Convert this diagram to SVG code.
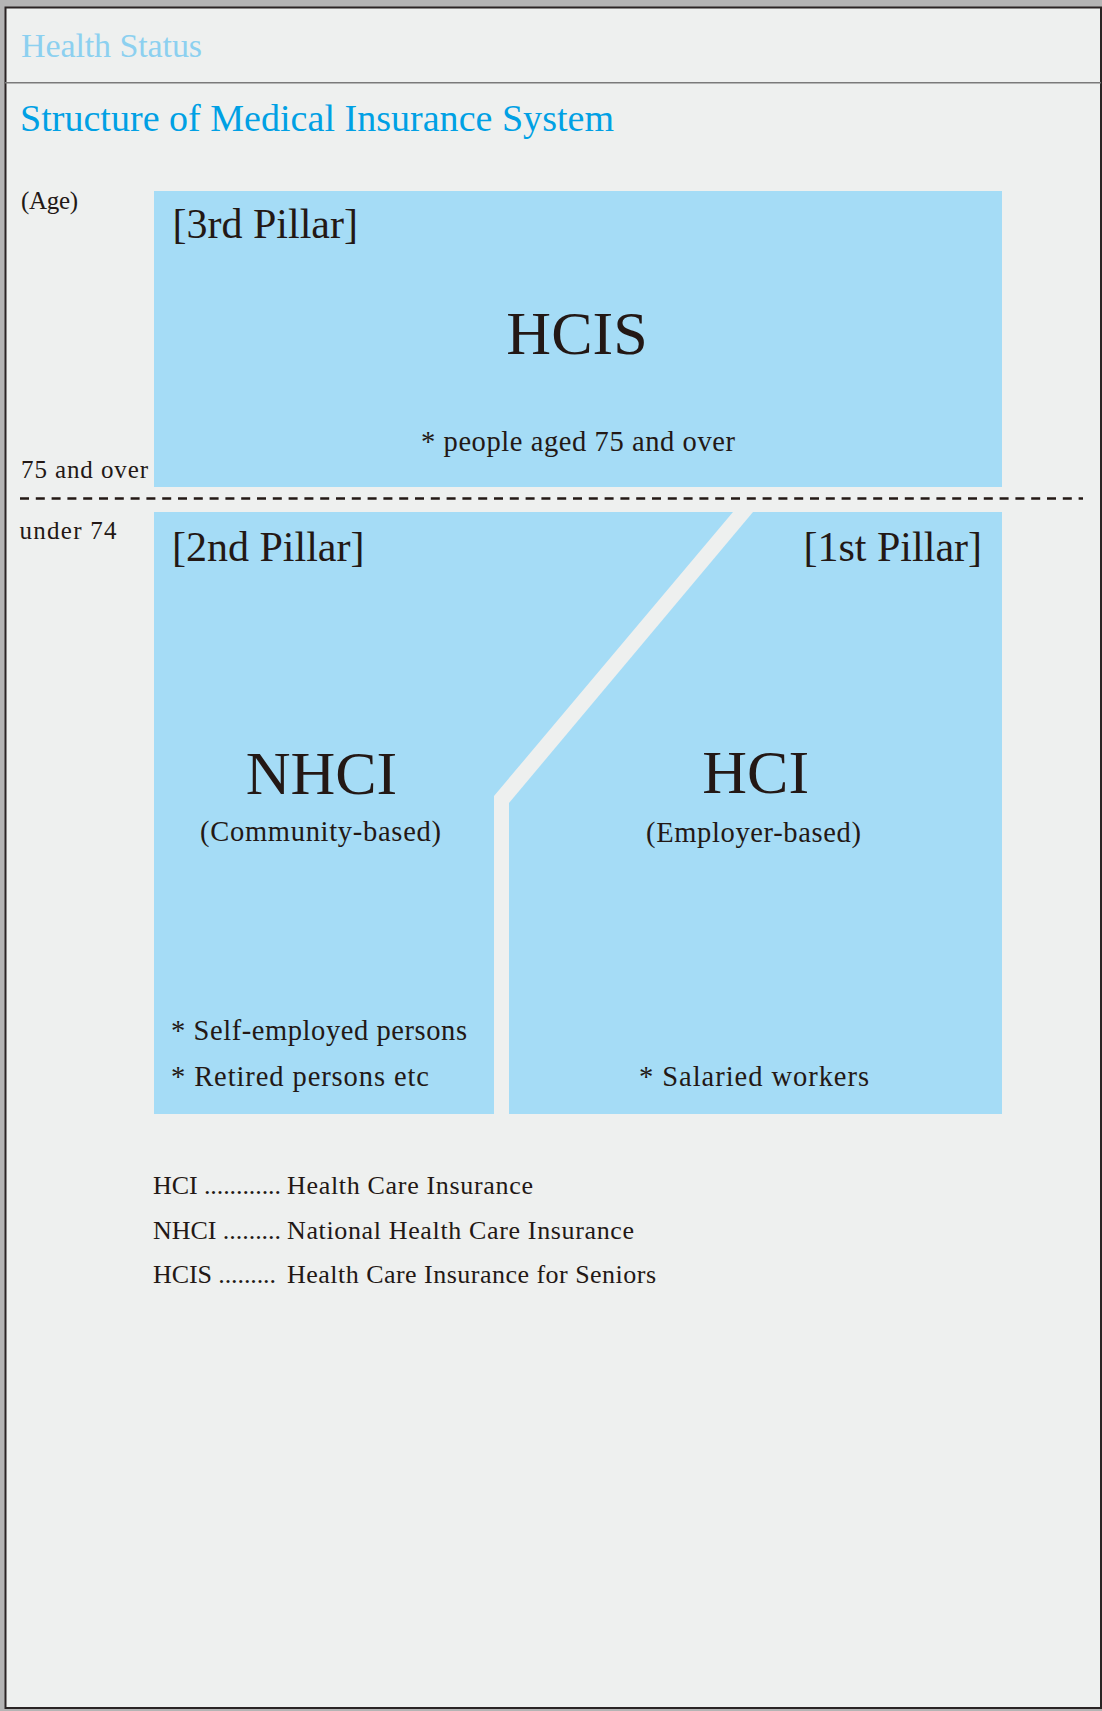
<svg xmlns="http://www.w3.org/2000/svg" width="1102" height="1711" viewBox="0 0 1102 1711">
  <style>
    .serif { font-family: "Liberation Serif", "Times New Roman", serif; }
    .ink { fill: #231815; }
    .box { fill: #a5dcf6; }
    .pillar { font-size: 42px; }
    .big { font-size: 62px; text-anchor: middle; }
    .sub { font-size: 28.5px; }
    .age { font-size: 25px; }
    .legend { font-size: 26px; }
  </style>
  <rect x="0" y="0" width="1102" height="1711" fill="#b4b4b4"/>
  <rect id="frame" x="5.5" y="7.5" width="1095.5" height="1700.5" fill="#eef0ef" stroke="#2a2424" stroke-width="2"/>
  <line x1="5" y1="82.7" x2="1101" y2="82.7" stroke="#7a7a7a" stroke-width="1.6"/>

  <g id="titles" class="serif">
    <text x="21" y="57" font-size="34" fill="#8cd0f0" textLength="181">Health Status</text>
    <text x="20" y="131" font-size="38" fill="#00a0e4" textLength="594">Structure of Medical Insurance System</text>
  </g>

  <g id="age-axis" class="serif ink">
    <text class="age" x="21" y="209" font-size="23" textLength="57">(Age)</text>
    <text class="age" x="21" y="478" textLength="127">75 and over</text>
    <text class="age" x="19.5" y="539" textLength="97">under 74</text>
  </g>

  <g id="node-hcis" class="serif">
    <rect class="box" x="154" y="191" width="848" height="296"/>
    <text class="pillar ink" x="172.5" y="238">[3rd Pillar]</text>
    <text class="big ink" x="577" y="354">HCIS</text>
    <text class="sub ink" x="421" y="451" textLength="314">* people aged 75 and over</text>
  </g>

  <g id="node-nhci" class="serif">
    <polygon class="box" points="154,512 733,512 494,796 494,1114 154,1114"/>
    <text class="pillar ink" x="172" y="561">[2nd Pillar]</text>
    <text class="big ink" x="321.5" y="794">NHCI</text>
    <text class="sub ink" x="200" y="841" textLength="241">(Community-based)</text>
    <text class="sub ink" x="171" y="1040" textLength="296">* Self-employed persons</text>
    <text class="sub ink" x="171" y="1086" textLength="258">* Retired persons etc</text>
  </g>

  <g id="node-hci" class="serif">
    <polygon class="box" points="753,512 1002,512 1002,1114 509,1114 509,803"/>
    <text class="pillar ink" x="982" y="561" text-anchor="end">[1st Pillar]</text>
    <text class="big ink" x="755.7" y="793">HCI</text>
    <text class="sub ink" x="646" y="842" textLength="215">(Employer-based)</text>
    <text class="sub ink" x="639" y="1086" textLength="230">* Salaried workers</text>
  </g>

  <g id="connectors">
    <line x1="20" y1="498.5" x2="1083" y2="498.5" stroke="#231815" stroke-width="2.5" stroke-dasharray="9 6.8"/>
  </g>

  <g id="legend" class="serif ink legend">
    <text x="153" y="1194" textLength="128">HCI ............</text>
    <text x="287" y="1194" textLength="246">Health Care Insurance</text>
    <text x="153" y="1239" textLength="128">NHCI .........</text>
    <text x="287" y="1239" textLength="347">National Health Care Insurance</text>
    <text x="153" y="1283" textLength="123">HCIS .........</text>
    <text x="287" y="1283" textLength="369">Health Care Insurance for Seniors</text>
  </g>
</svg>
